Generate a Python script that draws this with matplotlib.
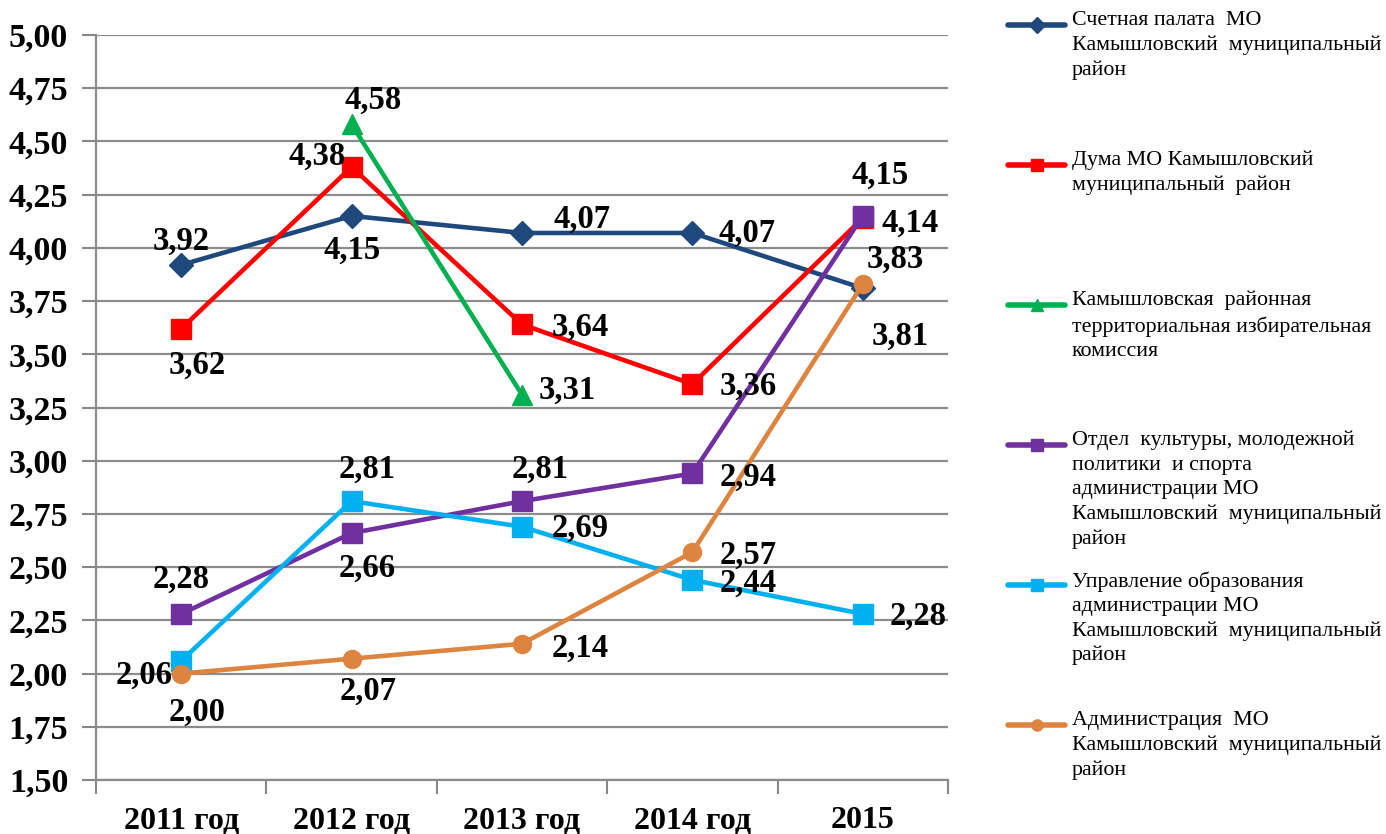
import numpy as np
import matplotlib.pyplot as plt
from matplotlib.lines import Line2D

years = ['2011 год', '2012 год', '2013 год', '2014 год', '2015']

names = [
    'Счетная палата  МО\nКамышловский  муниципальный\nрайон',
    'Дума МО Камышловский\nмуниципальный  район',
    'Камышловская  районная\nтерриториальная избирательная\nкомиссия',
    'Отдел  культуры, молодежной\nполитики  и спорта\nадминистрации МО\nКамышловский  муниципальный\nрайон',
    'Управление образования\nадминистрации МО\nКамышловский  муниципальный\nрайон',
    'Администрация  МО\nКамышловский  муниципальный\nрайон',
]

schet = [3.92, 4.15, 4.07, 4.07, 3.81]
duma = [3.62, 4.38, 3.64, 3.36, 4.14]
tik = [np.nan, 4.58, 3.31, np.nan, np.nan]
kult = [2.28, 2.66, 2.81, 2.94, 4.15]
obraz = [2.06, 2.81, 2.69, 2.44, 2.28]
admin = [2.00, 2.07, 2.14, 2.57, 3.83]

colors = ['#1F497D', '#FF0000', '#00B050', '#7030A0', '#00B0F0', '#DD8440']
markers = ['D', 's', '^', 's', 's', 'o']
msizes = [12, 14, 14, 14, 14, 13]

# label offsets in pixels (dx, dy) per point
offs = [
    [(0, 24), (1, -34), (60, 14), (55, 0), (37, -48)],
    [(16, -37), (-34, 11), (58, -3), (56, -2), (47, -5)],
    [None, (22, 24), (45, 4), None, None],
    [(0, 35), (16, -35), (18, 32), (56, -4), (17, 41)],
    [(-37, -14), (16, 32), (58, -2), (56, -3), (55, -2)],
    [(16, -39), (16, -33), (58, -4), (56, -3), (32, 25)],
]

plt.rcParams['font.family'] = ['Liberation Serif', 'DejaVu Serif']

fig = plt.figure(figsize=(13.86, 8.34), dpi=100)
ax = fig.add_axes([96 / 1386, 54 / 834, 852 / 1386, 745 / 834])

x = np.arange(len(years))
series = [schet, duma, tik, kult, obraz, admin]
for i, s in enumerate(series):
    ax.plot(x, s, color=colors[i], lw=3.3, marker=markers[i], ms=msizes[i],
            zorder=3)
    for j, v in enumerate(s):
        if np.isnan(v):
            continue
        ax.annotate(('%.2f' % v).replace('.', ','), (x[j], v),
                    xytext=offs[i][j], textcoords='offset pixels',
                    ha='center', va='center', fontsize=23.5, fontweight='bold',
                    zorder=4)

ax.set_xlim(-0.5, 4.5)
ax.set_ylim(1.5, 5.0)
yt = np.arange(1.5, 5.01, 0.25)
ax.set_yticks(yt)
ax.set_yticklabels([('%.2f' % t).replace('.', ',') for t in yt],
                   fontsize=24.5, fontweight='bold')
ax.set_xticks(x)
ax.set_xticklabels(years, fontsize=23, fontweight='bold')
ax.set_xticks(np.arange(-0.5, 4.6, 1), minor=True)
ax.tick_params(axis='x', which='major', length=0, pad=19)
ax.tick_params(axis='x', which='minor', length=10, width=1.5, color='#888888')
ax.tick_params(axis='y', length=10, width=1.5, color='#888888', pad=10)
ax.grid(axis='y', color='#8c8c8c', lw=1.6, zorder=0)
for side in ['top', 'right']:
    ax.spines[side].set_visible(False)
for side in ['left', 'bottom']:
    ax.spines[side].set_color('#8c8c8c')
    ax.spines[side].set_linewidth(1.6)

# legend drawn by hand, one entry every 140 px
for i, name in enumerate(names):
    ytop = 1 - (25 + 140 * i) / 834
    fig.add_artist(Line2D([1008 / 1386, 1065 / 1386], [ytop, ytop],
                          color=colors[i], lw=4, solid_capstyle='round',
                          transform=fig.transFigure))
    fig.add_artist(Line2D([1036.5 / 1386], [ytop], color=colors[i], lw=0,
                          marker=markers[i], ms=8,
                          transform=fig.transFigure))
    fig.text(1072 / 1386, ytop + 14 / 834, name, fontsize=15.8, va='top',
             ha='left', linespacing=1.37)

fig.savefig('out.png', dpi=100)
